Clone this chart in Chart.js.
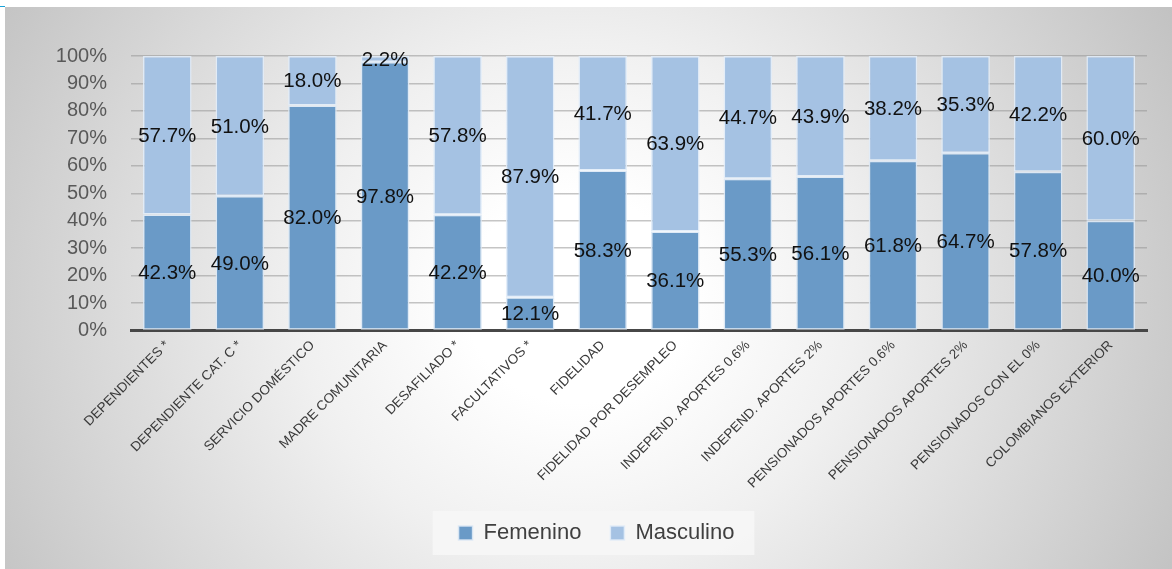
<!DOCTYPE html>
<html>
<head>
<meta charset="utf-8">
<script src="https://cdn.jsdelivr.net/npm/chart.js@4"></script>
<style>
  html, body { margin:0; padding:0; background:#ffffff; }
  #wrap { position:relative; width:1172px; height:569px; overflow:hidden; }
  #bg { position:absolute; left:5px; top:7px; right:0; bottom:0;
        background: radial-gradient(ellipse 60% 115% at 49% 52%, #ffffff 16%, #f0f0f0 40%, #bfbfbf 100%); }
  #strip { position:absolute; left:0; top:6px; width:5px; height:1px; background:#1aa3d9; }
  canvas { position:absolute; left:0; top:0; }
</style>
</head>
<body>
<div id="wrap">
  <div id="bg"></div>
  <div id="strip"></div>
  <canvas id="c" width="1172" height="569"></canvas>
</div>
<script>
const categories = [
  "DEPENDIENTES *", "DEPENDIENTE CAT. C *", "SERVICIO DOMÉSTICO", "MADRE COMUNITARIA",
  "DESAFILIADO *", "FACULTATIVOS *", "FIDELIDAD", "FIDELIDAD POR DESEMPLEO",
  "INDEPEND. APORTES 0.6%", "INDEPEND. APORTES 2%", "PENSIONADOS APORTES 0.6%",
  "PENSIONADOS APORTES 2%", "PENSIONADOS CON EL 0%", "COLOMBIANOS EXTERIOR"
];
const femenino  = [42.3, 49.0, 82.0, 97.8, 42.2, 12.1, 58.3, 36.1, 55.3, 56.1, 61.8, 64.7, 57.8, 40.0];
const masculino = [57.7, 51.0, 18.0, 2.2, 57.8, 87.9, 41.7, 63.9, 44.7, 43.9, 38.2, 35.3, 42.2, 60.0];
const yTicks = [0, 10, 20, 30, 40, 50, 60, 70, 80, 90, 100];

const FONT = "'Liberation Sans', Arial, sans-serif";

const valueLabels = {
  id: 'valueLabels',
  afterDatasetsDraw(chart) {
    const ctx = chart.ctx;
    ctx.save();
    ctx.font = "20.5px " + FONT;
    ctx.fillStyle = "#111111";
    ctx.textAlign = "center";
    ctx.textBaseline = "middle";
    chart.data.datasets.forEach((ds, di) => {
      const meta = chart.getDatasetMeta(di);
      meta.data.forEach((el, i) => {
        const v = ds.data[i];
        const yc = (el.y + el.base) / 2 + 1;
        ctx.fillText(v.toFixed(1) + "%", el.x, yc);
      });
    });
    ctx.restore();
  }
};

const legendBg = {
  id: 'legendBg',
  beforeDraw(chart) {
    const lg = chart.legend;
    if (!lg || !lg.legendHitBoxes || !lg.legendHitBoxes.length) return;
    const hb = lg.legendHitBoxes;
    const minX = Math.min(...hb.map(h => h.left));
    const maxX = Math.max(...hb.map(h => h.left + h.width));
    const cy = hb[0].top + hb[0].height / 2;
    const ctx = chart.ctx;
    ctx.save();
    ctx.fillStyle = "rgba(246,246,246,0.9)";
    ctx.fillRect(minX - 26, cy - 22, (maxX - minX) + 46, 44);
    ctx.restore();
  }
};

new Chart(document.getElementById('c'), {
  type: 'bar',
  data: {
    labels: categories,
    datasets: [
      { label: 'Femenino', data: femenino, backgroundColor: '#6a9ac7',
        borderColor: 'rgba(220,232,245,0.9)', borderWidth: 1.5, borderSkipped: false },
      { label: 'Masculino', data: masculino, backgroundColor: '#a5c2e3',
        borderColor: 'rgba(225,236,248,0.9)', borderWidth: 1.5, borderSkipped: false }
    ]
  },
  options: {
    responsive: false,
    animation: false,
    devicePixelRatio: 1,
    layout: { padding: { top: 56, left: 46, right: 25, bottom: 15 } },
    datasets: { bar: { barPercentage: 0.67, categoryPercentage: 1.0 } },
    plugins: {
      tooltip: { enabled: false },
      title: { display: false },
      legend: {
        position: 'bottom',
        labels: {
          font: { family: FONT, size: 22 },
          color: '#404040',
          boxWidth: 14, boxHeight: 14,
          padding: 29
        }
      }
    },
    scales: {
      x: {
        stacked: true,
        grid: { display: false, drawTicks: false },
        border: { display: true, color: '#474747', width: 3 },
        ticks: {
          font: { family: FONT, size: 13.5 },
          color: '#3a3a3a',
          maxRotation: 45, minRotation: 45,
          autoSkip: false,
          padding: 7
        },
        afterFit(scale) { scale.height = 162.5; }
      },
      y: {
        stacked: true,
        min: 0, max: 100,
        afterBuildTicks(scale) { scale.ticks = yTicks.map(v => ({ value: v })); },
        grid: { color: 'rgba(150,150,150,0.55)', lineWidth: 1.5, drawTicks: false },
        border: { display: false },
        ticks: {
          font: { family: FONT, size: 20 },
          color: '#595959',
          padding: 24,
          callback: v => v + '%'
        },
        afterFit(scale) { scale.width = 85; }
      }
    }
  },
  plugins: [legendBg, valueLabels]
});
</script>
</body>
</html>
